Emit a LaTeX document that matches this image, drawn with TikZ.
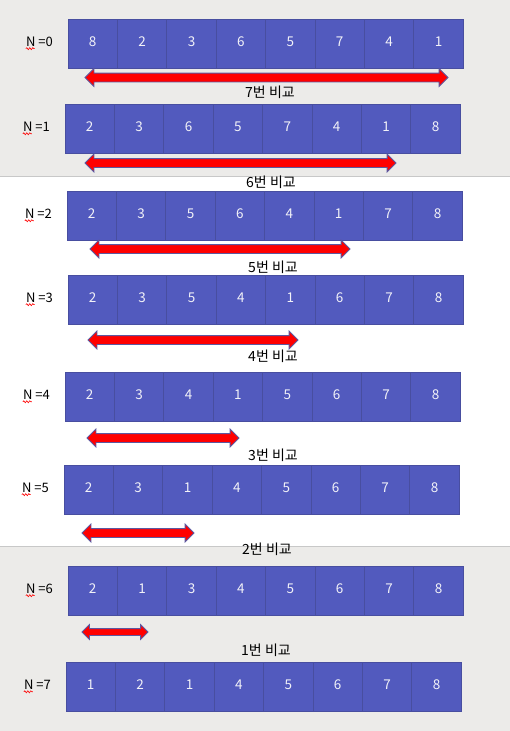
\documentclass[tikz,border=0pt]{standalone}
\usepackage{fontspec}
\setmainfont{Noto Sans CJK KR}
\usetikzlibrary{positioning,shapes.arrows,decorations.pathmorphing}

\definecolor{bggrey}{RGB}{236,235,233}
\definecolor{sepgrey}{RGB}{200,200,200}
\definecolor{cellblue}{RGB}{82,90,190}
\definecolor{cellline}{RGB}{72,78,160}
\definecolor{celltext}{RGB}{242,242,248}
\definecolor{arrline}{RGB}{92,88,160}

\begin{document}
\begin{tikzpicture}[
  x=1pt, y=-1pt,
  cell/.style={draw=cellline, fill=cellblue, line width=0.8pt, minimum width=49.4pt, minimum height=49.5pt,
    inner sep=0pt, outer sep=0pt, text=celltext, text height=0.75em, text depth=0.25em, font=\fontsize{13.5}{16}\selectfont},
  rowlbl/.style={inner sep=0pt, font=\fontsize{13}{15}\selectfont},
  cmp/.style={double arrow, draw=arrline, fill=red, line width=0.8pt, inner xsep=0pt, inner ysep=4pt,
    double arrow head extend=4.5pt, double arrow tip angle=90},
  cmplbl/.style={inner sep=0pt, font=\fontsize{14}{16}\selectfont},
  squig/.style={red, line width=0.6pt, decorate, decoration={snake, amplitude=1pt, segment length=3pt}}
]
\useasboundingbox (0,0) rectangle (510,731);

% background bands
\fill[bggrey] (0,0) rectangle (510,176.5);
\fill[bggrey] (0,546.5) rectangle (510,731);
\draw[sepgrey] (0,176.5) -- (510,176.5);
\draw[sepgrey] (0,546.5) -- (510,546.5);

% rows of the array
\foreach \rw/\x/\y/\vals in {0/68/44/{8,2,3,6,5,7,4,1},
                             1/65/129/{2,3,6,5,7,4,1,8},
                             2/67/216/{2,3,5,6,4,1,7,8},
                             3/68/300/{2,3,5,4,1,6,7,8},
                             4/65/397/{2,3,4,1,5,6,7,8},
                             5/64/490/{2,3,1,4,5,6,7,8},
                             6/68/591/{2,1,3,4,5,6,7,8},
                             7/66/687/{1,2,1,4,5,6,7,8}}{
  \coordinate (r\rw c0) at (\x,\y);
  \foreach \v [count=\k, remember=\k as \j (initially 0)] in \vals
    \node[cell, right=0pt of r\rw c\j] (r\rw c\k) {\v};
  \node[rowlbl, left=15pt of r\rw c0, yshift=2.5pt] (n\rw) {N =\rw};
  \draw[squig] ([yshift=-2.5pt]n\rw.base west) -- ++(9pt,0);
}

% comparison arrows
\node[cmp, minimum height=363pt] (a0) at (266.5,77.5) {};
\node[cmp, minimum height=311pt] (a1) at (240.5,163) {};
\node[cmp, minimum height=260pt] (a2) at (220,249) {};
\node[cmp, minimum height=210pt] (a3) at (193,340) {};
\node[cmp, minimum height=152pt] (a4) at (163,438) {};
\node[cmp, minimum height=112pt] (a5) at (138,533) {};
\node[cmp, minimum height=66pt, inner ysep=3pt, double arrow head extend=4pt] (a6) at (115,632) {};

\node[cmplbl] (c0) at (270,92) {7번 비교};
\node[cmplbl] (c1) at (271,182) {6번 비교};
\node[cmplbl] (c2) at (273,267) {5번 비교};
\node[cmplbl] (c3) at (273,356) {4번 비교};
\node[cmplbl] (c4) at (273,455) {3번 비교};
\node[cmplbl] (c5) at (267,549) {2번 비교};
\node[cmplbl] (c6) at (266,650) {1번 비교};
\end{tikzpicture}
\end{document}
